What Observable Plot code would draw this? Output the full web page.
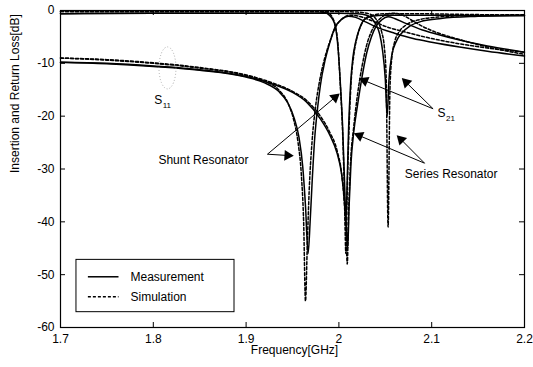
<!DOCTYPE html>
<html><head><meta charset="utf-8">
<script src="https://cdn.jsdelivr.net/npm/d3@7"></script>
<script src="https://cdn.jsdelivr.net/npm/@observablehq/plot@0.6"></script>
<style>
body{margin:0;background:#fff;}
#chart svg{font-family:"Liberation Sans",Arial,Helvetica,sans-serif;}
</style></head><body><div id="chart"></div><script>
// ---- axis ticks ----
const xTicks = [1.7, 1.8, 1.9, 2.0, 2.1, 2.2];
const xTickLabels = ["1.7", "1.8", "1.9", "2", "2.1", "2.2"];
const yTicks = [0, -10, -20, -30, -40, -50, -60];
const yTickLabels = ["0", "-10", "-20", "-30", "-40", "-50", "-60"];

// ---- shunt resonator, lower curve (notch ~1.965 GHz) ----
const shuntLowMeasF = [1.70,1.75,1.80,1.85,1.90,1.92,1.935,1.945,1.952,1.957,1.961,1.964,1.9668,1.969,1.971,1.974,1.977,1.980,1.985,1.990,1.996,2.003,2.010,2.018,2.028,2.040,2.060,2.080,2.100,2.130,2.160,2.200];
const shuntLowMeasDb = [-9.8,-10.1,-10.6,-11.3,-12.6,-13.7,-15.3,-17.5,-20.5,-24,-29.5,-37,-46,-40,-33,-24,-18.5,-14.2,-9.5,-6.2,-3.1,-1.7,-1.1,-1.3,-2.1,-3.1,-4.3,-5.3,-6.0,-6.9,-7.7,-8.6];
const shuntLowSimF = [1.70,1.75,1.80,1.85,1.90,1.92,1.935,1.945,1.951,1.956,1.9595,1.962,1.964,1.966,1.968,1.971,1.975,1.979,1.984,1.990,1.996,2.003,2.012,2.022,2.035,2.050,2.070,2.100,2.130,2.160,2.200];
const shuntLowSimDb = [-9.0,-9.4,-10.0,-10.9,-12.3,-13.4,-15.0,-17.5,-20.5,-25,-31,-40,-55,-44,-34,-25,-18,-13.5,-9.5,-6.0,-3.3,-1.6,-0.9,-1.1,-1.9,-3.0,-4.0,-5.3,-6.3,-7.1,-7.9];

// ---- series resonator, lower curve (notch ~2.009 GHz) ----
const seriesLowMeasF = [1.70,1.75,1.80,1.85,1.90,1.93,1.95,1.965,1.98,1.99,1.998,2.003,2.006,2.008,2.0095,2.011,2.013,2.016,2.020,2.025,2.030,2.035,2.040,2.046,2.053,2.060,2.070,2.080,2.090,2.100,2.130,2.160,2.200];
const seriesLowMeasDb = [-9.8,-10.0,-10.5,-11.2,-12.5,-14.0,-15.5,-17.3,-20.5,-23.5,-27,-31,-36,-41,-45,-37,-29,-23,-18,-12.5,-8.0,-5.0,-3.0,-1.8,-1.2,-1.5,-2.3,-3.0,-3.7,-4.2,-5.6,-6.7,-7.9];
const seriesLowSimF = [1.70,1.75,1.80,1.85,1.90,1.93,1.95,1.965,1.98,1.99,1.998,2.003,2.006,2.008,2.009,2.0105,2.0125,2.016,2.020,2.025,2.030,2.035,2.040,2.046,2.053,2.060,2.070,2.080,2.090,2.100,2.130,2.160,2.200];
const seriesLowSimDb = [-9.0,-9.3,-9.9,-10.8,-12.2,-13.8,-15.3,-17.0,-20.0,-23.0,-26.5,-31,-37,-44,-48,-38,-29,-22,-16,-10.5,-6.5,-4.0,-2.4,-1.3,-0.6,-0.5,-1.0,-2.0,-3.0,-3.8,-5.5,-6.9,-8.3];

// ---- shunt resonator, upper curve (notch ~2.007 GHz) ----
const shuntUpMeasF = [1.70,1.80,1.90,1.95,1.975,1.985,1.989,1.993,1.9963,1.999,2.0017,2.004,2.006,2.0075,2.009,2.0105,2.0125,2.015,2.018,2.022,2.027,2.035,2.050,2.080,2.120,2.160,2.200];
const shuntUpMeasDb = [-0.6,-0.5,-0.5,-0.5,-0.5,-0.4,-0.8,-1.6,-3.1,-7,-14.2,-22,-32,-40,-32,-22,-14.2,-9,-6,-3.5,-1.8,-1.1,-0.9,-0.9,-0.9,-1.0,-1.0];
const shuntUpSimF = [1.70,1.80,1.90,1.95,1.975,1.985,1.989,1.993,1.996,1.999,2.0015,2.004,2.006,2.0075,2.009,2.011,2.013,2.016,2.019,2.023,2.028,2.036,2.050,2.080,2.120,2.160,2.200];
const shuntUpSimDb = [-0.2,-0.2,-0.2,-0.2,-0.2,-0.2,-0.5,-1.3,-2.8,-6.5,-14,-23,-35,-46,-34,-22,-14,-8.5,-5.5,-3.2,-1.6,-0.9,-0.6,-0.6,-0.7,-0.8,-0.9];

// ---- series resonator, upper curve (notch ~2.052 GHz) ----
const seriesUpMeasF = [1.70,1.80,1.90,1.95,2.00,2.02,2.03,2.036,2.040,2.044,2.047,2.050,2.052,2.054,2.057,2.062,2.068,2.076,2.090,2.110,2.150,2.200];
const seriesUpMeasDb = [-0.6,-0.5,-0.5,-0.5,-0.5,-0.6,-0.9,-1.6,-2.7,-4.5,-7.5,-13,-20,-13,-8.5,-5.8,-4.2,-3.0,-2.0,-1.5,-1.1,-0.9];
const seriesUpSimF = [1.70,1.80,1.90,1.95,2.00,2.02,2.032,2.038,2.042,2.046,2.049,2.051,2.053,2.055,2.057,2.060,2.065,2.072,2.085,2.110,2.150,2.200];
const seriesUpSimDb = [-0.2,-0.2,-0.2,-0.2,-0.2,-0.3,-0.6,-1.2,-2.2,-4.0,-7.0,-13,-41,-15,-9,-6,-4,-2.8,-1.8,-1.2,-0.9,-0.8];

// ---- annotations ----
const labelTexts = ["Shunt Resonator", "Series Resonator"];
const labelF = [1.854, 2.121];
const labelDb = [-28.3, -30.9];
const arrowFromF = [1.923, 1.923, 2.1015, 2.1015, 2.0923, 2.0923];
const arrowFromDb = [-27.2, -27.2, -18.6, -18.6, -28.9, -28.9];
const arrowToF = [1.9505, 2.0002, 2.0223, 2.0684, 2.0168, 2.0629];
const arrowToDb = [-27.5, -15.8, -12.9, -12.9, -23.3, -23.7];
const legendNames = ["Measurement", "Simulation"];

function pts(F, D, id) { return F.map((f, i) => ({f, db: D[i], id})); }
const meas = [
  ...pts(shuntLowMeasF, shuntLowMeasDb, "shuntLow"),
  ...pts(seriesLowMeasF, seriesLowMeasDb, "seriesLow"),
  ...pts(shuntUpMeasF, shuntUpMeasDb, "shuntUp"),
  ...pts(seriesUpMeasF, seriesUpMeasDb, "seriesUp")
];
const sim = [
  ...pts(shuntLowSimF, shuntLowSimDb, "shuntLow"),
  ...pts(seriesLowSimF, seriesLowSimDb, "seriesLow"),
  ...pts(shuntUpSimF, shuntUpSimDb, "shuntUp"),
  ...pts(seriesUpSimF, seriesUpSimDb, "seriesUp")
];

const W = 533, H = 367, mL = 60, mR = 9, mT = 10, mB = 40;
const kx = (W - mL - mR) / 0.5, ky = (H - mT - mB) / 60; // px per unit, for head orientation
const heads = arrowToF.map((f, i) => {
  const sx = (f - arrowFromF[i]) * kx, sy = -(arrowToDb[i] - arrowFromDb[i]) * ky;
  const len = Math.hypot(sx, sy), back = 5.4;
  return {
    f: f - (sx / len) * back / kx,
    db: arrowToDb[i] + (sy / len) * back / ky,
    angle: Math.atan2(sx, -sy) * 180 / Math.PI
  };
});
const arrows = arrowFromF.map((f, i) => ({x1: f, y1: arrowFromDb[i], x2: heads[i].f, y2: heads[i].db}));

const font = "Liberation Sans, Arial, Helvetica, sans-serif";
const plotW = W - mL - mR, plotH = H - mT - mB, tl = 5;

const chart = Plot.plot({
  width: W, height: H,
  marginLeft: mL, marginRight: mR, marginTop: mT, marginBottom: mB,
  x: {domain: [1.7, 2.2]},
  y: {domain: [-60, 0]},
  style: {fontFamily: font, fontSize: "12px", color: "black", background: "white"},
  marks: [
    // curves
    Plot.line(meas, {x: "f", y: "db", z: "id", curve: "monotone-x", stroke: "black", strokeWidth: 1.5}),
    Plot.line(sim, {x: "f", y: "db", z: "id", curve: "monotone-x", stroke: "black", strokeWidth: 1.5, strokeDasharray: "3,2"}),
    // inward ticks on all four sides
    Plot.ruleX(xTicks, {x: d => d, insetTop: plotH - tl, stroke: "black"}),
    Plot.ruleX(xTicks, {x: d => d, insetBottom: plotH - tl, stroke: "black"}),
    Plot.ruleY(yTicks, {y: d => d, insetRight: plotW - tl, stroke: "black"}),
    Plot.ruleY(yTicks, {y: d => d, insetLeft: plotW - tl, stroke: "black"}),
    Plot.axisX(xTicks, {tickSize: 0, tickPadding: 7, tickFormat: d => xTickLabels[xTicks.indexOf(d)], label: null, fontSize: 12}),
    Plot.axisY(yTicks, {tickSize: 0, tickPadding: 6, tickFormat: d => yTickLabels[yTicks.indexOf(d)], label: null, fontSize: 12}),
    Plot.frame({stroke: "black", strokeWidth: 1.2}),
    // axis titles
    Plot.text(["Frequency[GHz]"], {frameAnchor: "bottom", dy: 26, dx: 2, fontSize: 12}),
    Plot.text(["Insertion and Return Loss[dB]"], {frameAnchor: "left", dx: -45, dy: 4, rotate: -90, fontSize: 12}),
    // annotations
    Plot.text(labelTexts, {x: (d, i) => labelF[i], y: (d, i) => labelDb[i], fontSize: 12}),
    Plot.text(["S"], {x: 1.8053, y: -17.0, fontSize: 12}),
    Plot.text(["11"], {x: 1.8146, y: -17.9, fontSize: 8}),
    Plot.text(["S"], {x: 2.1106, y: -19.5, fontSize: 12}),
    Plot.text(["21"], {x: 2.1203, y: -20.4, fontSize: 8}),
    Plot.link(arrows, {x1: "x1", y1: "y1", x2: "x2", y2: "y2", stroke: "black", strokeWidth: 1}),
    Plot.dot(heads, {x: "f", y: "db", symbol: "triangle", r: 4, fill: "black", stroke: "none", rotate: "angle"}),
    // legend
    Plot.rect([0], {x1: 1.7172, x2: 1.8875, y1: -47.2, y2: -57.1, fill: "white", stroke: "black", strokeWidth: 1}),
    Plot.link([0], {x1: 1.7295, x2: 1.7625, y1: -50.4, y2: -50.4, stroke: "black", strokeWidth: 1.5}),
    Plot.link([0], {x1: 1.7295, x2: 1.7625, y1: -54.2, y2: -54.2, stroke: "black", strokeWidth: 1.5, strokeDasharray: "3,2"}),
    Plot.text(legendNames, {x: 1.7754, y: (d, i) => [-50.4, -54.2][i], textAnchor: "start", fontSize: 12})
  ]
});
document.getElementById("chart").appendChild(chart);

// dotted S11 ellipse marker, positioned through the plot scales
const sx = chart.scale("x"), sy = chart.scale("y");
d3.select(chart).append("ellipse")
  .attr("cx", sx.apply(1.8158)).attr("cy", sy.apply(-10.96))
  .attr("rx", 8.5).attr("ry", 21)
  .attr("fill", "none").attr("stroke", "#999").attr("stroke-width", 0.8).attr("stroke-dasharray", "1,2");
</script></body></html>
